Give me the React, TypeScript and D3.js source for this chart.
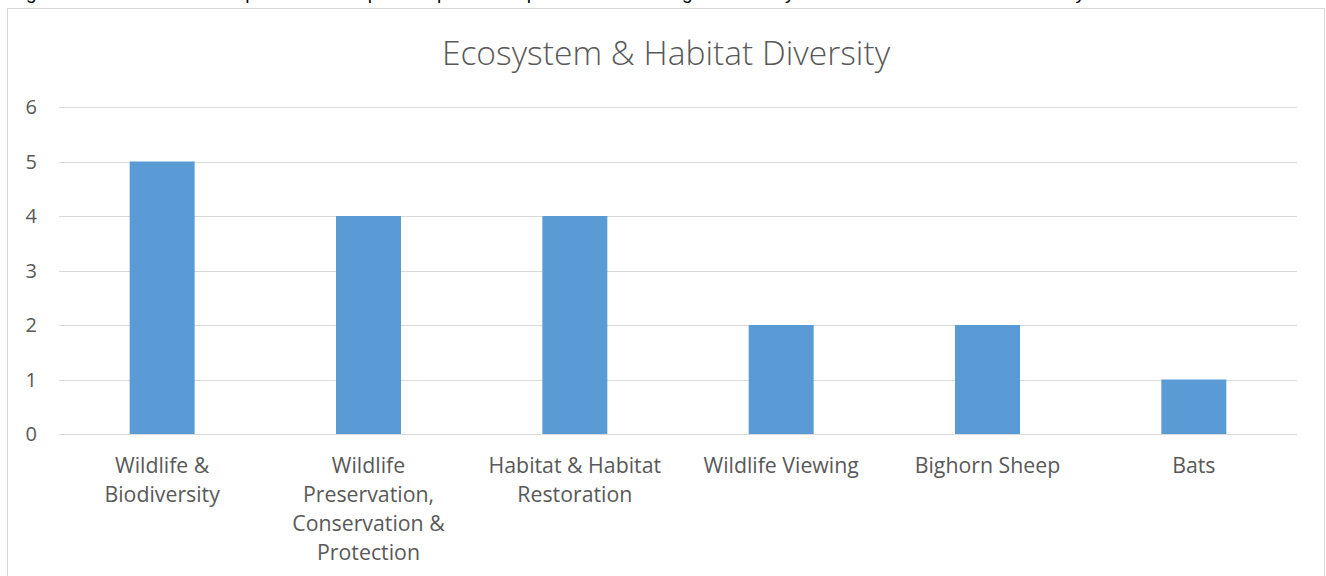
import React from "react";
import * as d3 from "d3";

const categories = [
  "Wildlife & Biodiversity",
  "Wildlife Preservation, Conservation & Protection",
  "Habitat & Habitat Restoration",
  "Wildlife Viewing",
  "Bighorn Sheep",
  "Bats",
];
const categoryLines = [
  ["Wildlife &", "Biodiversity"],
  ["Wildlife", "Preservation,", "Conservation &", "Protection"],
  ["Habitat & Habitat", "Restoration"],
  ["Wildlife Viewing"],
  ["Bighorn Sheep"],
  ["Bats"],
];
const values = [5, 4, 4, 2, 2, 1];
const yTicks = [0, 1, 2, 3, 4, 5, 6];
const title = "Ecosystem & Habitat Diversity";
const caption = "Figure 8: Number of open-ended participant responses relating to Ecosystem and Habitat Diversity";

const W = 1326;
const H = 576;
const FONT = "'Open Sans', 'Noto Sans', sans-serif";
const TEXT = "#595959";

export default function App() {
  const plotLeft = 59;
  const plotRight = 1297;
  const y = d3.scaleLinear().domain([0, 6]).range([434, 107]);
  const x = d3
    .scaleBand<string>()
    .domain(categories)
    .range([plotLeft, plotRight])
    .paddingInner(0.685)
    .paddingOuter(0.3425);

  return (
    <svg
      width={W}
      height={H}
      style={{ position: "absolute", left: 0, top: 0, background: "#fff" }}
      fontFamily={FONT}
    >
      <text x={5} y={-1} fontSize={19} fill="#000" fontFamily="'Liberation Sans', sans-serif" textLength={1080}>
        {caption}
      </text>
      <rect x={7.5} y={8.5} width={1317} height={600} fill="#fff" stroke="#d9d9d9" strokeWidth={1} />
      <text x={666} y={65} textAnchor="middle" fontSize={33.6} fontWeight={300} fill={TEXT}>
        {title}
      </text>
      {yTicks.map((t) => (
        <g key={t}>
          <line x1={plotLeft} x2={plotRight} y1={Math.round(y(t)) + 0.5} y2={Math.round(y(t)) + 0.5} stroke="#d9d9d9" strokeWidth={1} />
          <text x={37} y={y(t)} dy="0.36em" textAnchor="end" fontSize={20} fill={TEXT}>
            {t}
          </text>
        </g>
      ))}
      {categories.map((c, i) => (
        <rect key={c} x={x(c)} y={y(values[i])} width={x.bandwidth()} height={y(0) - y(values[i])} fill="#5b9bd5" />
      ))}
      {categories.map((c, i) => (
        <text key={c} x={(x(c) as number) + x.bandwidth() / 2} textAnchor="middle" fontSize={21.3} fill={TEXT}>
          {categoryLines[i].map((l, j) => (
            <tspan key={j} x={(x(c) as number) + x.bandwidth() / 2} y={473 + j * 29}>
              {l}
            </tspan>
          ))}
        </text>
      ))}
    </svg>
  );
}
